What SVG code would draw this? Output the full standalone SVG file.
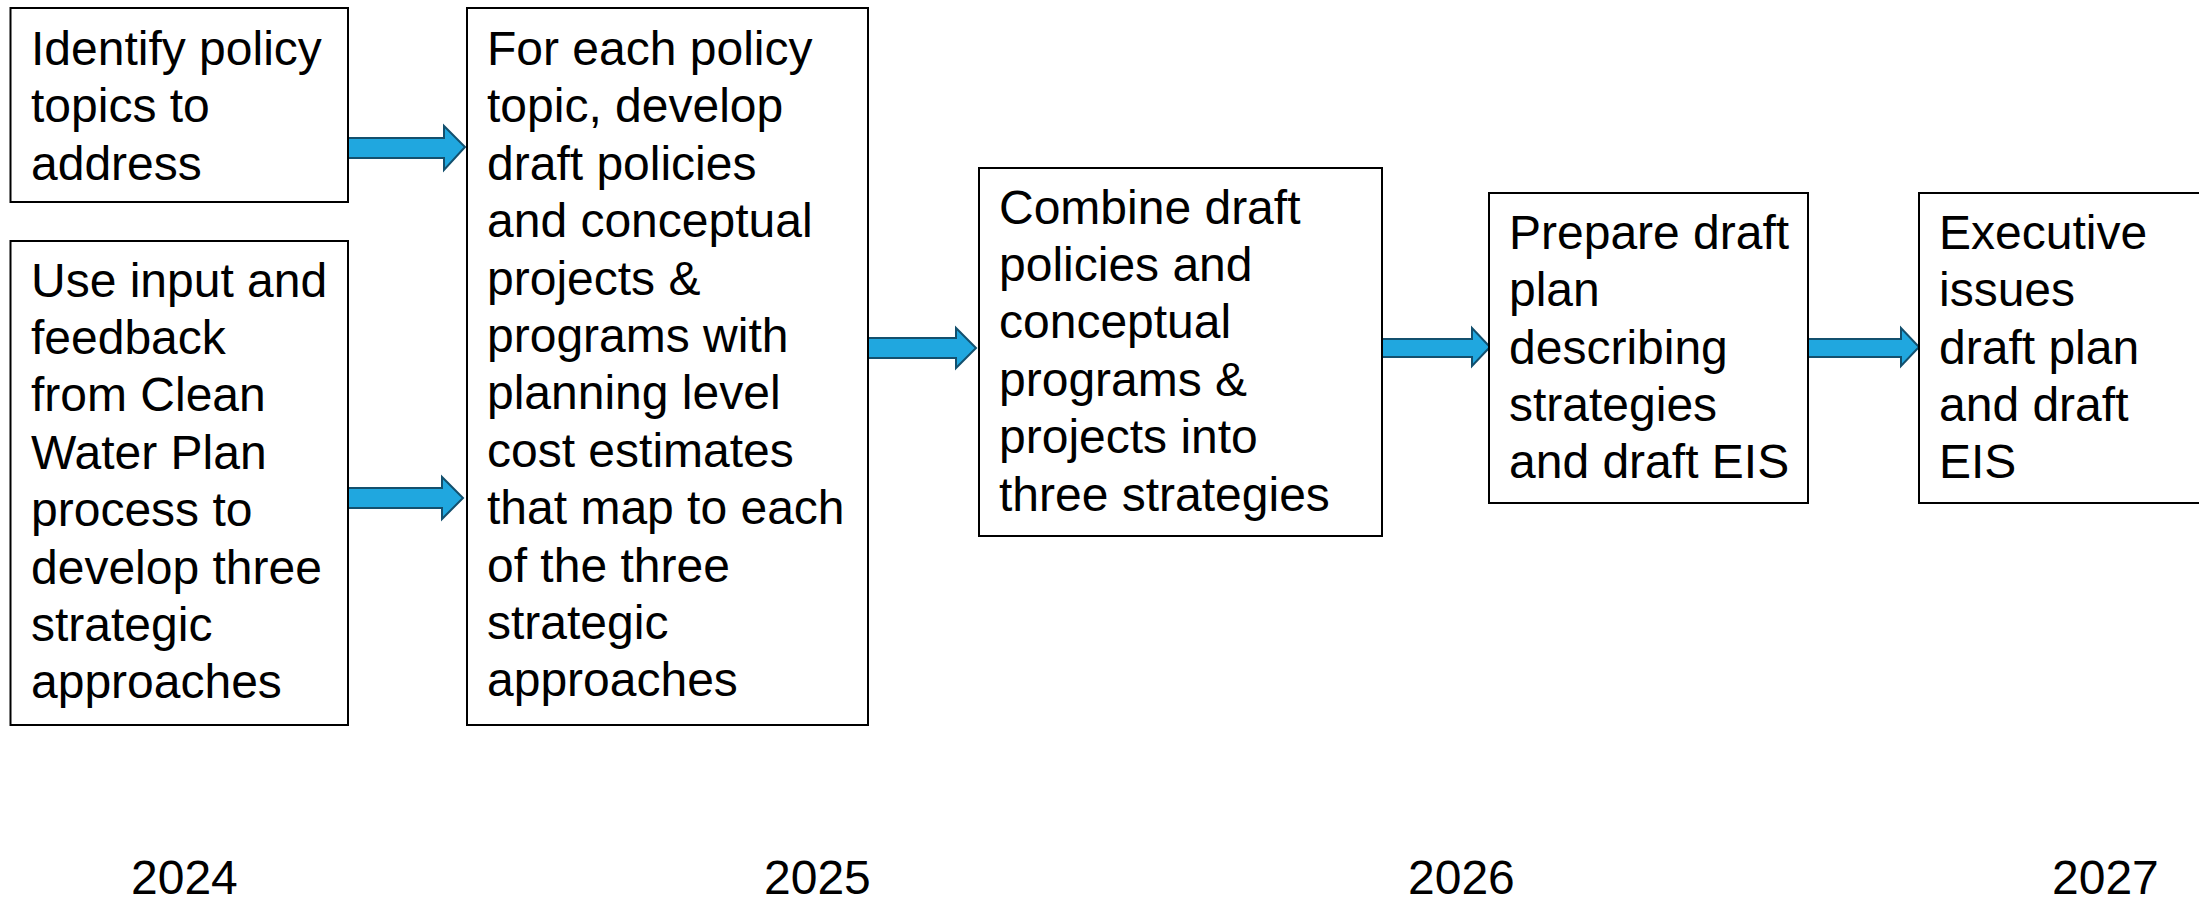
<svg xmlns="http://www.w3.org/2000/svg" width="2199" height="898" viewBox="0 0 2199 898">
<style>
.box{fill:#fff;stroke:#000;stroke-width:2}
.t{font-family:"Liberation Sans",Arial,sans-serif;font-size:48px;fill:#000}
.arr{fill:#20A7DF;stroke:#13506E;stroke-width:2;stroke-linejoin:miter}
</style>
<rect width="2199" height="898" fill="#fff"/>
<g id="connectors">
<path class="arr" d="M348,138 H444 V126 L465,147 L444,170 V158 H348 Z"/>
<path class="arr" d="M347,488 H442 V477 L463,498 L442,519 V508 H347 Z"/>
<path class="arr" d="M864,338 H956 V328 L976,348 L956,368 V358 H864 Z"/>
<path class="arr" d="M1377,339 H1472 V328 L1490,347 L1472,366 V357 H1377 Z"/>
<path class="arr" d="M1807,339 H1901 V328 L1919,347 L1901,366 V357 H1807 Z"/>
</g>
<g id="n1">
<rect class="box" x="10.5" y="8" width="337.5" height="194"/>
<text class="t" x="31" y="65">Identify policy</text>
<text class="t" x="31" y="122.4">topics to</text>
<text class="t" x="31" y="179.8">address</text>
</g>
<g id="n2">
<rect class="box" x="10.5" y="241" width="337.5" height="484"/>
<text class="t" x="31" y="296.5">Use input and</text>
<text class="t" x="31" y="353.9">feedback</text>
<text class="t" x="31" y="411.3">from Clean</text>
<text class="t" x="31" y="468.7">Water Plan</text>
<text class="t" x="31" y="526.1">process to</text>
<text class="t" x="31" y="583.5">develop three</text>
<text class="t" x="31" y="640.9">strategic</text>
<text class="t" x="31" y="698.3">approaches</text>
</g>
<g id="n3">
<rect class="box" x="467" y="8" width="401" height="717"/>
<text class="t" x="487" y="65">For each policy</text>
<text class="t" x="487" y="122.4">topic, develop</text>
<text class="t" x="487" y="179.8">draft policies</text>
<text class="t" x="487" y="237.2">and conceptual</text>
<text class="t" x="487" y="294.6">projects &amp;</text>
<text class="t" x="487" y="352">programs with</text>
<text class="t" x="487" y="409.4">planning level</text>
<text class="t" x="487" y="466.8">cost estimates</text>
<text class="t" x="487" y="524.2">that map to each</text>
<text class="t" x="487" y="581.6">of the three</text>
<text class="t" x="487" y="639">strategic</text>
<text class="t" x="487" y="696.4">approaches</text>
</g>
<g id="n4">
<rect class="box" x="979" y="168" width="403" height="368"/>
<text class="t" x="999" y="223.6">Combine draft</text>
<text class="t" x="999" y="281">policies and</text>
<text class="t" x="999" y="338.4">conceptual</text>
<text class="t" x="999" y="395.8">programs &amp;</text>
<text class="t" x="999" y="453.2">projects into</text>
<text class="t" x="999" y="510.6">three strategies</text>
</g>
<g id="n5">
<rect class="box" x="1489" y="193" width="319" height="310"/>
<text class="t" x="1509" y="248.8">Prepare draft</text>
<text class="t" x="1509" y="306.2">plan</text>
<text class="t" x="1509" y="363.6">describing</text>
<text class="t" x="1509" y="421">strategies</text>
<text class="t" x="1509" y="478.4">and draft EIS</text>
</g>
<g id="n6">
<rect class="box" x="1919" y="193" width="300" height="310"/>
<text class="t" x="1939" y="248.8">Executive</text>
<text class="t" x="1939" y="306.2">issues</text>
<text class="t" x="1939" y="363.6">draft plan</text>
<text class="t" x="1939" y="421">and draft</text>
<text class="t" x="1939" y="478.4">EIS</text>
</g>
<g id="years">
<text class="t" x="131" y="894">2024</text>
<text class="t" x="764" y="894">2025</text>
<text class="t" x="1408" y="894">2026</text>
<text class="t" x="2052" y="894">2027</text>
</g>
</svg>
